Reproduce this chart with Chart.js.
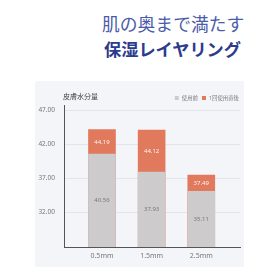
<!DOCTYPE html>
<html>
<head>
<meta charset="utf-8">
<script src="https://cdn.jsdelivr.net/npm/chart.js@4.4.1/dist/chart.umd.min.js"></script>
<style>
  html, body { margin: 0; padding: 0; background: #fff; }
  body { width: 280px; height: 280px; position: relative; overflow: hidden;
         font-family: 'Noto Sans', 'Noto Sans CJK JP', sans-serif; }
  .head { position: absolute; font-family: 'Noto Sans CJK JP', sans-serif; white-space: nowrap; }
  #h1 { left: 102px; top: 13px; font-size: 17.8px; line-height: 20px; color: #4a5ba8; }
  #h2 { left: 104px; top: 39px; font-size: 17.2px; line-height: 20px; color: #2c3b8c; font-weight: bold; }
  #panel { position: absolute; left: 35px; top: 81px; width: 209px; height: 186px;
           background: #f4f5f9; border-radius: 2px; }
  #wrap { position: absolute; left: 0; top: 0; width: 207px; height: 186px; }
</style>
</head>
<body>
<div class="head" id="h1">肌の奥まで満たす</div>
<div class="head" id="h2">保湿レイヤリング</div>
<div id="panel">
  <div id="wrap"><canvas id="chart"></canvas></div>
</div>
<script>
var categories = ['0.5mm', '1.5mm', '2.5mm'];
var seriesNames = ['使用前', '1回使用直後'];
var beforeValues = [40.56, 37.93, 35.11];
var afterValues = [44.19, 44.12, 37.49];
var yTicks = [32, 37, 42, 47];
var chartTitle = '皮膚水分量';

var FONT = "'Noto Sans', 'Noto Sans CJK JP', sans-serif";
var GREY = '#cdcbcc';
var ORANGE = '#e1795c';

function points(values) {
  return values.map(function(v, i) { return { x: i, y: v }; });
}

// title + legend on one row above the plot, and the value labels inside the bars
var decorations = {
  id: 'decorations',
  afterDatasetsDraw: function(chart) {
    var ctx = chart.ctx;
    var area = chart.chartArea;
    var before = chart.getDatasetMeta(0).data;
    var after = chart.getDatasetMeta(1).data;
    ctx.save();
    ctx.textAlign = 'center';
    ctx.textBaseline = 'middle';
    ctx.font = '6px ' + FONT;
    for (var i = 0; i < before.length; i++) {
      var b = before[i], a = after[i];
      var bottom = Math.min(b.base, area.bottom);
      ctx.fillStyle = '#7a7a7a';
      ctx.fillText(beforeValues[i].toFixed(2), b.x, (b.y + bottom) / 2);
      ctx.fillStyle = 'rgba(255,255,255,0.92)';
      ctx.fillText(afterValues[i].toFixed(2), a.x, (a.y + b.y) / 2);
    }
    ctx.restore();
  },
  afterDraw: function(chart) {
    var ctx = chart.ctx;
    var area = chart.chartArea;
    ctx.save();
    ctx.textBaseline = 'middle';
    ctx.font = '7px ' + FONT;
    ctx.fillStyle = '#444';
    ctx.textAlign = 'left';
    ctx.fillText(chartTitle, area.left - 1, 16);

    ctx.font = '5.4px ' + FONT;
    var x = area.right - 1;
    var ds = chart.data.datasets;
    for (var i = ds.length - 1; i >= 0; i--) {
      var w = ctx.measureText(ds[i].label).width;
      x -= w;
      ctx.fillStyle = '#7d7d7d';
      ctx.fillText(ds[i].label, x, 17);
      x -= 7;
      ctx.fillStyle = ds[i].backgroundColor;
      ctx.fillRect(x, 15, 4, 4);
      x -= 4;
    }
    ctx.restore();
  }
};

var ctx = document.getElementById('chart').getContext('2d');
var chart = new Chart(ctx, {
  type: 'bar',
  data: {
    datasets: [{
      label: seriesNames[0],
      data: points(beforeValues),
      backgroundColor: GREY
    }, {
      label: seriesNames[1],
      data: points(afterValues),
      backgroundColor: ORANGE
    }]
  },
  options: {
    responsive: true,
    maintainAspectRatio: false,
    animation: false,
    layout: { padding: { top: 24, right: 2, bottom: 0, left: 0 } },
    datasets: { bar: { grouped: false, barThickness: 27, borderWidth: 0 } },
    plugins: {
      legend: { display: false },
      tooltip: { enabled: false }
    },
    scales: {
      x: {
        type: 'linear',
        offset: false,
        min: -0.765,
        max: 2.78,
        afterBuildTicks: function(axis) {
          axis.ticks = categories.map(function(c, i) { return { value: i }; });
        },
        afterFit: function(axis) { axis.height = 20; },
        grid: { display: false, drawTicks: false },
        border: { display: true, color: '#555', width: 1 },
        ticks: {
          padding: 5,
          color: '#777',
          font: { family: FONT, size: 7 },
          callback: function(value) { return categories[value]; }
        }
      },
      y: {
        min: 26.9,
        max: 47.8,
        afterBuildTicks: function(axis) {
          axis.ticks = yTicks.map(function(v) { return { value: v }; });
        },
        afterFit: function(axis) { axis.width = 29; },
        grid: { color: '#e4e5eb', drawTicks: false },
        border: { display: true, color: '#555', width: 1 },
        ticks: {
          padding: 9,
          color: '#777',
          font: { family: FONT, size: 6.5 },
          callback: function(value) { return value.toFixed(2); }
        }
      }
    }
  },
  plugins: [decorations]
});
</script>
</body>
</html>
